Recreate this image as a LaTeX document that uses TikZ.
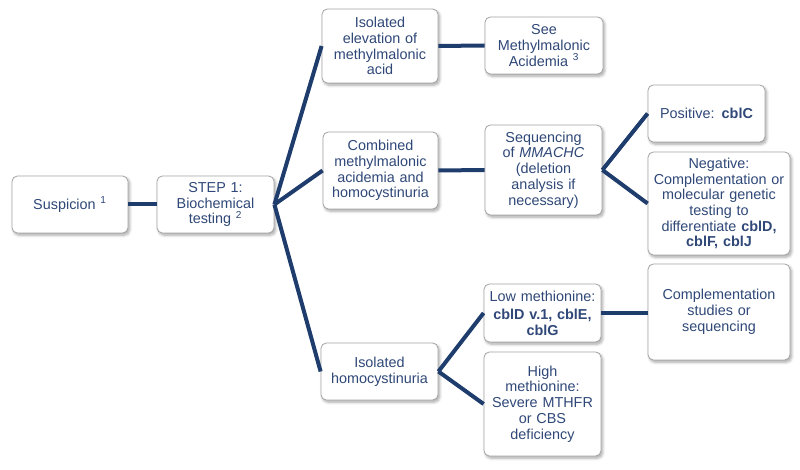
\documentclass[tikz,border=0pt]{standalone}
\usepackage{xcolor}
\usepackage{fontspec}
\setmainfont{Liberation Sans}
\usepackage{tikz}
\usetikzlibrary{shadows.blur}
\usetikzlibrary{positioning}

\definecolor{txtblue}{RGB}{47,72,120}
\definecolor{linkblue}{RGB}{30,60,108}
\definecolor{boxgray}{RGB}{165,165,165}

\tikzset{
  diagbox/.style={draw=boxgray, line width=0.6pt, fill=white, rounded corners=4pt,
    align=center, inner sep=3pt, text=txtblue,
    font=\fontsize{10.8}{11.8}\selectfont,
    blur shadow={shadow xshift=1.2pt, shadow yshift=-1.6pt, shadow opacity=35, shadow blur steps=6}},
  link/.style={draw=linkblue, line width=3pt}
}

\begin{document}
\begin{tikzpicture}[x=0.75pt,y=0.75pt,yscale=-1,xscale=1]
\useasboundingbox (0,0) rectangle (800,470);

%Shape: Box [id:susp]
\node [diagbox, text width=81pt, minimum height=42.75pt] (susp) at (70,204.5) {Suspicion \textsuperscript{1}};
%Shape: Box [id:step]
\node [diagbox, text width=81.75pt, minimum height=42.75pt] (step) at (215.5,204.5) {STEP 1:\\Biochemical\\testing \textsuperscript{2}};

%Shape: Box [id:iso]
\node [diagbox, text width=81pt, minimum height=55.5pt] (iso) at (380,46) {Isolated\\elevation of\\methylmalonic\\acid};
%Shape: Box [id:see]
\node [diagbox, text width=82.5pt, minimum height=42.75pt] (see) at (544,45.5) {See\\Methylmalonic\\Acidemia \textsuperscript{3}};

%Shape: Box [id:comb]
\node [diagbox, text width=80.25pt, minimum height=57.75pt] (comb) at (380.5,170.5) {Combined\\methylmalonic\\acidemia and\\homocystinuria};
%Shape: Box [id:seq]
\node [diagbox, text width=81.75pt, minimum height=67.5pt] (seq) at (543.5,170) {Sequencing\\of \textit{MMACHC}\\(deletion\\analysis if\\necessary)};
%Shape: Box [id:pos]
\node [diagbox, text width=81.75pt, minimum height=42.75pt] (pos) at (706.5,113.5) {Positive: \textbf{cblC}};
%Shape: Box [id:neg]
\node [diagbox, text width=100.5pt, minimum height=77.25pt] (neg) at (719,203.5) {Negative:\\Complementation or\\molecular genetic\\testing to\\differentiate \textbf{cblD,}\\\textbf{cblF, cblJ}};

%Shape: Box [id:homo]
\node [diagbox, text width=81.75pt, minimum height=42.75pt] (homo) at (379.5,371.5) {Isolated\\homocystinuria};
%Shape: Box [id:low]
\node [diagbox, text width=81.75pt, minimum height=43.5pt] (low) at (542.5,313) {Low methionine:\\[2pt]\textbf{cblD v.1, cblE,}\\\textbf{cblG}};
%Shape: Box [id:comp]
\node [diagbox, text width=100.5pt, minimum height=72pt] (comp) at (719,312) {Complementation\\studies or\\sequencing};
%Shape: Box [id:high]
\node [diagbox, text width=81.75pt, minimum height=78pt] (high) at (542.5,404) {High\\methionine:\\Severe MTHFR\\or CBS\\deficiency};

%Straight Lines
\draw [link] (susp.east) -- (step.east -| step.west);
\draw [link] (step.east) -- (iso.west);
\draw [link] (step.east) -- (comb.west);
\draw [link] (step.east) -- (homo.west);
\draw [link] (iso.east) -- (see.west);
\draw [link] (comb.east) -- (seq.west);
\draw [link] (seq.east) -- (pos.west);
\draw [link] (seq.east) -- (neg.west);
\draw [link] (homo.east) -- (low.west);
\draw [link] (homo.east) -- (high.west);
\draw [link] (low.east) -- (comp.west |- low.east);

\end{tikzpicture}
\end{document}
